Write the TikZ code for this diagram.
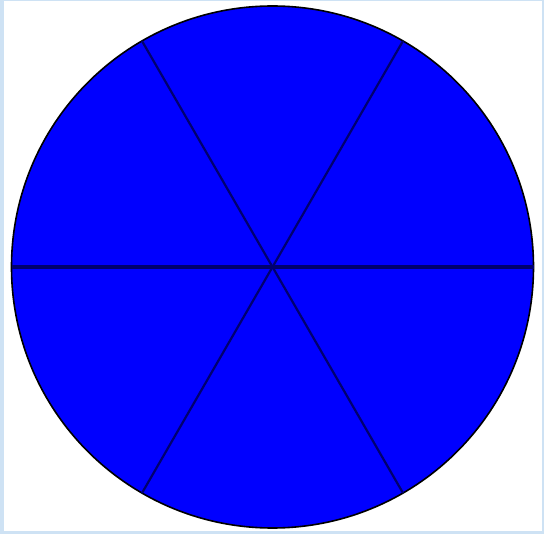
\documentclass[tikz,border=0pt]{standalone}
\usepackage{tikz}

\definecolor{framebg}{RGB}{206,226,244}
\definecolor{spoke}{RGB}{0,0,110}

\begin{document}
\begin{tikzpicture}[x=1pt,y=-1pt]
		% frame and white page
		\fill[framebg] (0,0) rectangle (544,534);
		\fill[white] (4,1) rectangle (542,531);
		\useasboundingbox (0,0) rectangle (544,534);
		% the disc
		\coordinate (c) at (272.5,267);
		\filldraw[fill=blue, draw=black, line width=1.6pt] (c) circle (261);
		% six equal sectors
		\draw[line width=3.4pt, spoke] (c) -- ++(180:261);
		\draw[line width=3.4pt, spoke] (c) -- ++(0:261);
		\draw[line width=2.2pt, spoke] (c) -- ++(60:261);
		\draw[line width=2.2pt, spoke] (c) -- ++(120:261);
		\draw[line width=2.2pt, spoke] (c) -- ++(240:261);
		\draw[line width=2.2pt, spoke] (c) -- ++(300:261);
	\end{tikzpicture}
\end{document}
